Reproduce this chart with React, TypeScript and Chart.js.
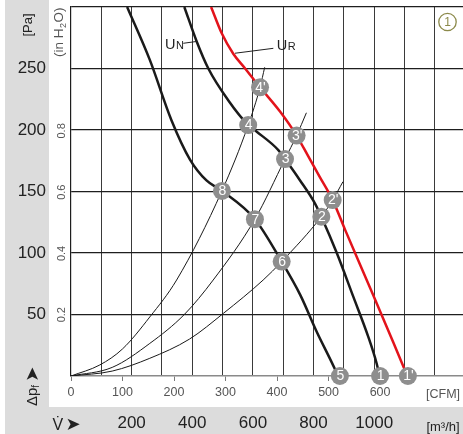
import React, { useEffect, useRef } from 'react';
import { Chart, registerables } from 'chart.js';

Chart.register(...registerables);

const FONT = "'Liberation Sans', Arial, Helvetica, sans-serif";
const CFM_TO_M3H = 1.699;
const X_MAX_CFM = 761;
const Y_MAX_PA = 300;
const PA_PER_INH2O = 249.089;

// tick / label values
const cfmTickValues = [0, 100, 200, 300, 400, 500, 600];
const m3hGridValues = [0, 100, 200, 300, 400, 500, 600, 700, 800, 900, 1000, 1100, 1200];
const m3hLabelValues = [200, 400, 600, 800, 1000];
const paGridValues = [0, 50, 100, 150, 200, 250, 300];
const paLabelValues = [50, 100, 150, 200, 250];
const inH2OLabelValues = [0.2, 0.4, 0.6, 0.8];

// fan curves [CFM, Pa]
const curveLowSpeed = [[109, 300], [153, 257], [195, 208], [231, 176], [263, 159], [293, 150.5], [357, 127.5], [409, 93], [445, 66], [477, 36], [513, 5], [518, 0]];
const curveUN = [[220, 300], [244, 272], [266.6, 250], [305.5, 224], [344, 204], [360.6, 198.6], [402.5, 183.7], [415.5, 176.4], [444.7, 159], [474, 140], [486, 129.5], [516, 100], [548, 64.5], [577, 32], [593.5, 10], [599, 0]];
const curveUR = [[272, 300], [292.6, 278.6], [315, 262], [338, 250], [367, 234.7], [405.8, 215], [438, 195.5], [461, 178.3], [482, 162.5], [508, 143], [532, 119], [587, 65.5], [626, 27], [653, 0]];

// system (resistance) curves [CFM, Pa]
const systemA = [[0, 0], [56, 9], [100, 22], [153, 48], [205, 78], [293, 150.5], [344, 204], [367, 234.7], [376, 251]];
const systemB = [[0, 0], [80, 7], [153, 26.5], [220, 50], [276, 78], [357, 127.5], [415.5, 176.4], [438, 195.5], [457, 214]];
const systemC = [[0, 0], [80, 4], [153, 14.4], [230, 30], [296, 51], [373, 78], [409, 93], [486, 129.5], [508, 143], [528, 158]];

// operating points
const markerLabels = ['8', '7', '6', '5', '4', '3', '2', '1', "4'", "3'", "2'", "1'"];
const markerCfm = [293, 357, 409, 522, 344, 415.5, 486, 600, 367, 438, 508, 654];
const markerPa = [150.5, 127.5, 93, 0, 204, 176.4, 129.5, 0, 234.7, 195.5, 143, 0];

// curve name annotations [CFM, Pa]
const labelUN = { text: 'U', sub: 'N', at: [182.5, 265.5], lineFrom: [218, 270.5], lineTo: [244, 272] };
const labelUR = { text: 'U', sub: 'R', at: [399.4, 265], lineFrom: [318.4, 262.4], lineTo: [392.8, 266.4] };

const BAND = '#dcdcdc';

const toXY = (pts: number[][]) => pts.map(([x, y]) => ({ x, y }));

const lineDs = (pts: number[][], color: string, width: number) => ({
  data: toXY(pts),
  showLine: true,
  borderColor: color,
  borderWidth: width,
  pointRadius: 0,
  cubicInterpolationMode: 'monotone' as const,
  fill: false,
});

const decorPlugin = {
  id: 'decor',
  beforeDraw(chart: any) {
    const c = chart.ctx;
    const x2 = chart.scales.x2;
    c.save();
    c.fillStyle = '#ffffff';
    c.fillRect(0, 0, chart.width, chart.height);
    c.fillStyle = BAND;
    c.fillRect(5, 0, 44, x2.top);
    c.fillRect(5, x2.top, chart.width - 5, chart.height - x2.top);
    c.restore();
  },
  afterDatasetsDraw(chart: any) {
    const c = chart.ctx;
    const meta = chart.getDatasetMeta(0);
    c.save();
    c.fillStyle = '#ffffff';
    c.font = `14px ${FONT}`;
    c.textAlign = 'center';
    c.textBaseline = 'middle';
    meta.data.forEach((el: any, i: number) => {
      c.fillText(markerLabels[i], el.x + 0.5, el.y + 0.5);
    });
    c.restore();
  },
  afterDraw(chart: any) {
    const c = chart.ctx;
    const { chartArea: ca, scales } = chart;
    const xs = scales.x;
    const ys = scales.y;
    c.save();

    // [Pa]
    c.save();
    c.translate(28.5, 25);
    c.rotate(-Math.PI / 2);
    c.font = `13px ${FONT}`;
    c.fillStyle = '#222';
    c.textAlign = 'center';
    c.textBaseline = 'middle';
    c.fillText('[Pa]', 0, 0);
    c.restore();

    // Δpf ➤
    c.save();
    c.translate(37, 406);
    c.rotate(-Math.PI / 2);
    c.fillStyle = '#222';
    c.textAlign = 'left';
    c.textBaseline = 'alphabetic';
    c.font = `15px ${FONT}`;
    c.fillText('Δp', 0, 0);
    let w = c.measureText('Δp').width;
    c.font = `10px ${FONT}`;
    c.fillText('f', w, 2);
    w += c.measureText('f').width + 3;
    c.font = `18px 'DejaVu Sans', ${FONT}`;
    c.fillText('➤', w, 0.5);
    c.restore();

    // (in H2O)
    c.save();
    c.translate(63, 57);
    c.rotate(-Math.PI / 2);
    c.fillStyle = '#555';
    c.textAlign = 'left';
    c.textBaseline = 'alphabetic';
    c.font = `13.5px ${FONT}`;
    c.fillText('(in H', 0, 0);
    w = c.measureText('(in H').width;
    c.font = `9px ${FONT}`;
    c.fillText('2', w + 0.5, 3);
    w += c.measureText('2').width + 1;
    c.font = `13.5px ${FONT}`;
    c.fillText('O)', w, 0);
    c.restore();

    // inH2O tick labels
    c.font = `11px ${FONT}`;
    c.fillStyle = '#555';
    c.textAlign = 'center';
    c.textBaseline = 'middle';
    inH2OLabelValues.forEach((v) => {
      const py = ys.getPixelForValue(v * PA_PER_INH2O);
      c.save();
      c.translate(62, py);
      c.rotate(-Math.PI / 2);
      c.fillText(v.toFixed(1), 0, 0);
      c.restore();
    });

    // [CFM]
    c.font = `12.5px ${FONT}`;
    c.fillStyle = '#555';
    c.textAlign = 'center';
    c.textBaseline = 'alphabetic';
    c.fillText('[CFM]', ca.right - 20, 398);

    // [m³/h]
    c.font = `13px ${FONT}`;
    c.fillStyle = '#222';
    c.fillText('[m³/h]', ca.right - 20, 430.5);

    // V̇ ➤
    c.textAlign = 'left';
    c.font = `16px ${FONT}`;
    c.fillText('V\u0307', 52.5, 429.5);
    c.font = `18px 'DejaVu Sans', ${FONT}`;
    c.fillText('➤', 65.5, 430);

    // circled 1
    c.beginPath();
    c.arc(ca.right - 15.5, ca.top + 15, 8.7, 0, Math.PI * 2);
    c.strokeStyle = '#8c8a4b';
    c.lineWidth = 1.3;
    c.stroke();
    c.fillStyle = '#8c8a4b';
    c.font = `12px ${FONT}`;
    c.textAlign = 'center';
    c.textBaseline = 'middle';
    c.fillText('1', ca.right - 15.5, ca.top + 15.5);

    // curve labels with leader lines
    [labelUN, labelUR].forEach((lb) => {
      c.beginPath();
      c.moveTo(xs.getPixelForValue(lb.lineFrom[0]), ys.getPixelForValue(lb.lineFrom[1]));
      c.lineTo(xs.getPixelForValue(lb.lineTo[0]), ys.getPixelForValue(lb.lineTo[1]));
      c.strokeStyle = '#222';
      c.lineWidth = 1;
      c.stroke();
      const px = xs.getPixelForValue(lb.at[0]);
      const py = ys.getPixelForValue(lb.at[1]);
      c.fillStyle = '#222';
      c.textAlign = 'left';
      c.textBaseline = 'alphabetic';
      c.font = `14.5px ${FONT}`;
      c.fillText(lb.text, px, py);
      const tw = c.measureText(lb.text).width;
      c.font = `11px ${FONT}`;
      c.fillText(lb.sub, px + tw + 0.5, py);
    });

    c.restore();
  },
};

export default function App() {
  const ref = useRef<HTMLCanvasElement | null>(null);

  useEffect(() => {
    if (!ref.current) return;
    const chart = new Chart(ref.current, {
      type: 'scatter',
      data: {
        datasets: [
          {
            data: markerCfm.map((x, i) => ({ x, y: markerPa[i] })),
            showLine: false,
            pointRadius: 9,
            pointHoverRadius: 9,
            pointBackgroundColor: '#8e8e8e',
            pointBorderWidth: 0,
            clip: false,
          } as any,
          lineDs(curveUR, '#e3131b', 2.5),
          lineDs(curveUN, '#1a1a1a', 2.5),
          lineDs(curveLowSpeed, '#1a1a1a', 2.5),
          lineDs(systemA, '#1a1a1a', 1),
          lineDs(systemB, '#1a1a1a', 1),
          lineDs(systemC, '#1a1a1a', 1),
        ],
      },
      plugins: [decorPlugin],
      options: {
        animation: false,
        responsive: false,
        devicePixelRatio: 1,
        events: [],
        layout: { autoPadding: false, padding: { top: 7, left: 0, right: 0, bottom: 0 } },
        plugins: { legend: { display: false }, tooltip: { enabled: false } },
        scales: {
          x: {
            type: 'linear',
            position: 'bottom',
            weight: 0,
            min: 0,
            max: X_MAX_CFM,
            afterBuildTicks: (s: any) => {
              s.ticks = cfmTickValues.map((v) => ({ value: v }));
            },
            afterFit: (s: any) => {
              s.height = 31;
              s.paddingLeft = 0;
              s.paddingRight = 0;
            },
            grid: { drawOnChartArea: false, drawTicks: true, tickLength: 5, color: '#7a7a7a', lineWidth: 1 },
            border: { display: true, color: '#8a8a8a', width: 1.5 },
            ticks: {
              autoSkip: false,
              maxRotation: 0,
              padding: 4,
              color: '#555',
              font: { family: FONT, size: 12.5 },
              callback: (v: any) => String(v),
            },
          },
          x2: {
            type: 'linear',
            position: 'bottom',
            weight: 1,
            min: 0,
            max: X_MAX_CFM * CFM_TO_M3H,
            afterBuildTicks: (s: any) => {
              s.ticks = m3hGridValues.map((v) => ({ value: v }));
            },
            afterFit: (s: any) => {
              s.height = 27;
              s.paddingLeft = 0;
              s.paddingRight = 0;
            },
            grid: {
              drawOnChartArea: true,
              drawTicks: false,
              color: (ctx: any) => (ctx.tick && ctx.tick.value === 0 ? 'rgba(0,0,0,0)' : '#3a3a3a'),
              lineWidth: 1,
            },
            border: { display: false },
            ticks: {
              autoSkip: false,
              maxRotation: 0,
              padding: 6,
              color: '#222',
              font: { family: FONT, size: 17 },
              callback: (v: any) => (m3hLabelValues.includes(v) ? String(v) : ''),
            },
          },
          y: {
            type: 'linear',
            position: 'left',
            min: 0,
            max: Y_MAX_PA,
            afterBuildTicks: (s: any) => {
              s.ticks = paGridValues.map((v) => ({ value: v }));
            },
            afterFit: (s: any) => {
              s.width = 71;
              s.paddingTop = 0;
              s.paddingBottom = 0;
            },
            grid: {
              drawTicks: false,
              color: (ctx: any) => (ctx.tick && ctx.tick.value === 0 ? 'rgba(0,0,0,0)' : '#1e1e1e'),
              lineWidth: 1.2,
            },
            border: { display: true, color: '#1e1e1e', width: 1.2 },
            ticks: {
              autoSkip: false,
              padding: 25,
              color: '#222',
              font: { family: FONT, size: 17 },
              callback: (v: any) => (paLabelValues.includes(v) ? String(v) : ''),
            },
          },
        },
      } as any,
    });
    return () => chart.destroy();
  }, []);

  return (
    <div style={{ position: 'fixed', left: 0, top: 0, width: 463, height: 434, background: '#fff' }}>
      <canvas ref={ref} width={463} height={434} style={{ display: 'block' }} />
    </div>
  );
}
